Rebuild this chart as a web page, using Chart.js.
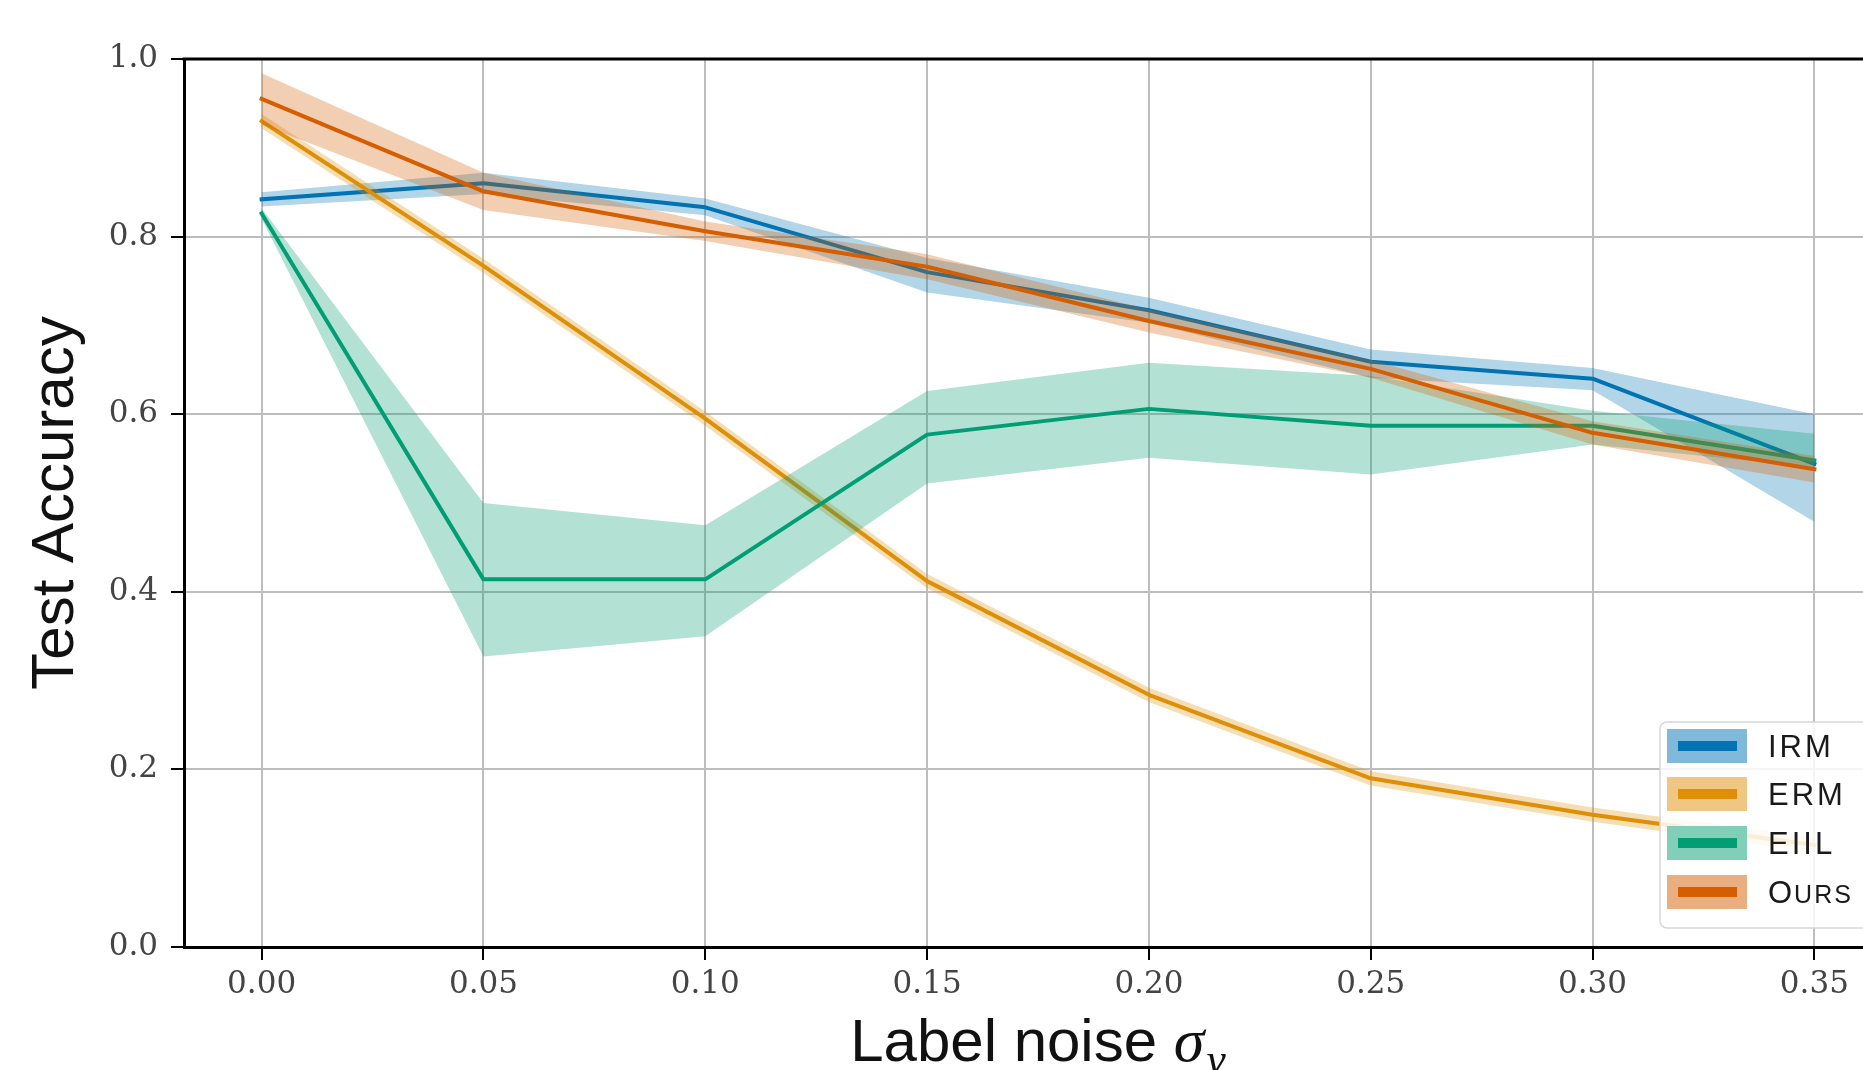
<!DOCTYPE html>
<html><head><meta charset="utf-8">
<script src="https://cdn.jsdelivr.net/npm/chart.js@4.4.1/dist/chart.umd.min.js"></script>
<style>
html,body{margin:0;padding:0;background:#fff;overflow:hidden;width:1863px;height:1070px;}
#wrap{position:absolute;left:0;top:0;width:1920px;height:1070px;}
</style></head>
<body><div id="wrap"><canvas id="c" width="1920" height="1070"></canvas></div>
<script>
// ---- data ----
const noise = [0.00, 0.05, 0.10, 0.15, 0.20, 0.25, 0.30, 0.35];
const xTicks = [0.00, 0.05, 0.10, 0.15, 0.20, 0.25, 0.30, 0.35];
const yTicks = [0.0, 0.2, 0.4, 0.6, 0.8, 1.0];

const irmMean = [0.842, 0.860, 0.833, 0.760, 0.717, 0.659, 0.640, 0.544];
const irmLow  = [0.834, 0.848, 0.824, 0.737, 0.703, 0.641, 0.627, 0.479];
const irmHigh = [0.850, 0.872, 0.843, 0.776, 0.731, 0.673, 0.652, 0.600];

const ermMean = [0.930, 0.767, 0.595, 0.412, 0.284, 0.190, 0.149, 0.115];
const ermLow  = [0.922, 0.759, 0.587, 0.404, 0.276, 0.182, 0.141, 0.107];
const ermHigh = [0.938, 0.775, 0.603, 0.420, 0.292, 0.198, 0.157, 0.123];

const eiilMean = [0.826, 0.414, 0.414, 0.577, 0.606, 0.587, 0.587, 0.548];
const eiilLow  = [0.820, 0.327, 0.350, 0.522, 0.551, 0.532, 0.566, 0.540];
const eiilHigh = [0.832, 0.500, 0.475, 0.626, 0.658, 0.643, 0.604, 0.578];

const oursMean = [0.955, 0.851, 0.806, 0.766, 0.705, 0.651, 0.579, 0.538];
const oursLow  = [0.926, 0.830, 0.795, 0.752, 0.692, 0.641, 0.566, 0.523];
const oursHigh = [0.984, 0.872, 0.817, 0.780, 0.718, 0.661, 0.592, 0.553];

const seriesNames = ['IRM', 'ERM', 'EIIL', 'Ours'];
const seriesColors = ['#0173b2', '#de8f05', '#029e73', '#d55e00'];

// ---- build datasets ----
function rgba(hex, a) {
  const n = parseInt(hex.slice(1), 16);
  return `rgba(${(n >> 16) & 255},${(n >> 8) & 255},${n & 255},${a})`;
}
function mixWhite(hex, a) {
  const n = parseInt(hex.slice(1), 16);
  const f = c => Math.round(255 * (1 - a) + c * a);
  return `rgb(${f((n >> 16) & 255)},${f((n >> 8) & 255)},${f(n & 255)})`;
}
const pts = arr => noise.map((x, i) => ({x, y: arr[i]}));
const datasets = [];
function addSeries(name, color, mean, low, high, orderBase) {
  const idx = datasets.length;
  datasets.push({label: name + ' upper', data: pts(high), borderColor: 'transparent', borderWidth: 0,
    pointRadius: 0, backgroundColor: rgba(color, 0.3), fill: idx + 1, order: orderBase + 1, tension: 0});
  datasets.push({label: name + ' lower', data: pts(low), borderColor: 'transparent', borderWidth: 0,
    pointRadius: 0, fill: false, order: orderBase + 1, tension: 0});
  datasets.push({label: name, data: pts(mean), borderColor: color, borderWidth: 4, pointRadius: 0,
    fill: false, order: orderBase, tension: 0, borderJoinStyle: 'round', borderCapStyle: 'square'});
}
addSeries('IRM', seriesColors[0], irmMean, irmLow, irmHigh, 6);
addSeries('ERM', seriesColors[1], ermMean, ermLow, ermHigh, 4);
addSeries('EIIL', seriesColors[2], eiilMean, eiilLow, eiilHigh, 2);
addSeries('Ours', seriesColors[3], oursMean, oursLow, oursHigh, 0);

// ---- plugins ----
const decorPlugin = {
  id: 'decor',
  afterDraw(chart) {
    const ctx = chart.ctx;
    const a = chart.chartArea;
    ctx.save();
    // top spine
    ctx.strokeStyle = '#000';
    ctx.lineWidth = 3;
    ctx.beginPath();
    ctx.moveTo(a.left - 1.5, a.top);
    ctx.lineTo(a.right, a.top);
    ctx.stroke();

    // legend
    const bx = 1660, by = 722, bw = 300, bh = 206, r = 7;
    ctx.beginPath();
    ctx.moveTo(bx + r, by);
    ctx.lineTo(bx + bw - r, by);
    ctx.arcTo(bx + bw, by, bx + bw, by + r, r);
    ctx.lineTo(bx + bw, by + bh - r);
    ctx.arcTo(bx + bw, by + bh, bx + bw - r, by + bh, r);
    ctx.lineTo(bx + r, by + bh);
    ctx.arcTo(bx, by + bh, bx, by + bh - r, r);
    ctx.lineTo(bx, by + r);
    ctx.arcTo(bx, by, bx + r, by, r);
    ctx.closePath();
    ctx.fillStyle = 'rgba(255,255,255,0.85)';
    ctx.fill();
    ctx.strokeStyle = '#d6d6d6';
    ctx.lineWidth = 1.5;
    ctx.stroke();

    const centers = [746, 794, 843, 892];
    seriesNames.forEach((name, i) => {
      const cy = centers[i];
      const col = seriesColors[i];
      ctx.fillStyle = mixWhite(col, 0.5);
      ctx.fillRect(1667, cy - 17, 80, 34);
      ctx.fillStyle = col;
      ctx.fillRect(1678, cy - 5, 59, 10);
      ctx.fillStyle = '#1a1a1a';
      ctx.textBaseline = 'alphabetic';
      ctx.textAlign = 'left';
      const base = cy + 11;
      if (name === 'Ours') {
        ctx.font = '31px "Liberation Sans"';
        ctx.fillText('O', 1768, base);
        const w = ctx.measureText('O').width;
        ctx.font = '25px "Liberation Sans"';
        ctx.letterSpacing = '2px';
        ctx.fillText('URS', 1768 + w + 2, base);
        ctx.letterSpacing = '0px';
      } else {
        ctx.font = '31px "Liberation Sans"';
        ctx.letterSpacing = '3px';
        ctx.fillText(name, 1768, base);
        ctx.letterSpacing = '0px';
      }
    });

    // x-axis title: Label noise σ_y
    const cx = (a.left + a.right) / 2;
    const baseY = 1061;
    const part1 = 'Label noise ';
    ctx.font = '60px "Liberation Sans"';
    const w1 = ctx.measureText(part1).width;
    ctx.font = 'italic 62px "Liberation Serif"';
    const w2 = ctx.measureText('σ').width;
    ctx.font = 'italic 44px "Liberation Serif"';
    const w3 = ctx.measureText('y').width;
    let x0 = cx - (w1 + w2 + w3 + 2) / 2;
    ctx.fillStyle = '#111';
    ctx.font = '60px "Liberation Sans"';
    ctx.fillText(part1, x0, baseY);
    ctx.font = 'italic 62px "Liberation Serif"';
    ctx.fillText('σ', x0 + w1, baseY);
    ctx.font = 'italic 44px "Liberation Serif"';
    ctx.fillText('y', x0 + w1 + w2 + 2, baseY + 13);
    ctx.restore();
  }
};

const tickFont = {family: '"DejaVu Serif"', size: 31};

new Chart(document.getElementById('c'), {
  type: 'line',
  data: {datasets},
  plugins: [decorPlugin],
  options: {
    responsive: false,
    animation: false,
    devicePixelRatio: 1,
    layout: {padding: {left: 0, right: 28, top: 59, bottom: 0}},
    plugins: {legend: {display: false}, tooltip: {enabled: false}},
    scales: {
      x: {
        type: 'linear',
        min: -0.0175, max: 0.3675,
        afterBuildTicks: s => { s.ticks = xTicks.map(v => ({value: v})); },
        afterFit: s => { s.height = 123; },
        ticks: {
          callback: v => Number(v).toFixed(2),
          font: tickFont, color: '#444', padding: 6, autoSkip: false, maxRotation: 0
        },
        grid: {color: '#bdbdbd', lineWidth: 2, tickColor: '#000', tickWidth: 2, tickLength: 13, drawTicks: true},
        border: {display: true, color: '#000', width: 3}
      },
      y: {
        type: 'linear',
        min: 0, max: 1,
        afterBuildTicks: s => { s.ticks = yTicks.map(v => ({value: v})); },
        afterFit: s => { s.width = 184; },
        ticks: {
          callback: v => Number(v).toFixed(1),
          font: tickFont, color: '#444', padding: 13
        },
        title: {
          display: true, text: 'Test Accuracy', color: '#111',
          font: {family: '"Liberation Sans"', size: 60}, padding: {top: 20, bottom: 0}
        },
        grid: {color: '#bdbdbd', lineWidth: 2, tickColor: '#000', tickWidth: 2, tickLength: 13, drawTicks: true},
        border: {display: true, color: '#000', width: 3}
      }
    }
  }
});
</script>
</body></html>
